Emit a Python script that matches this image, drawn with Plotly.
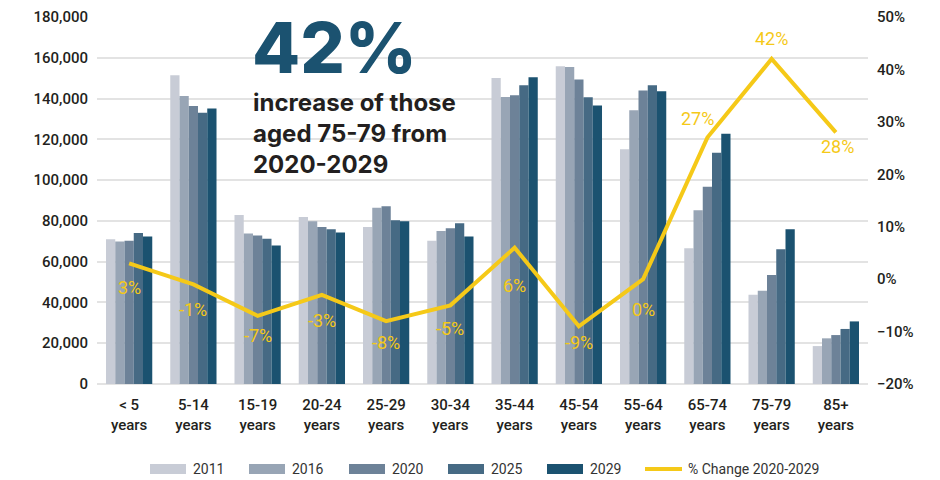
import plotly.graph_objects as go

# Age groups shown on the category axis
age_groups = ["< 5<br>years", "5-14<br>years", "15-19<br>years", "20-24<br>years",
              "25-29<br>years", "30-34<br>years", "35-44<br>years", "45-54<br>years",
              "55-64<br>years", "65-74<br>years", "75-79<br>years", "85+<br>years"]

# Population by age group for each year
pop_2011 = [71000, 151400, 82900, 81900, 77000, 70200, 150100, 155800, 115100, 66600, 43800, 18600]
pop_2016 = [69900, 141200, 73800, 79800, 86500, 75100, 140800, 155500, 134300, 85200, 45700, 22400]
pop_2020 = [70300, 136300, 72800, 77000, 87200, 76400, 141600, 149300, 143900, 96800, 53500, 24000]
pop_2025 = [74000, 133000, 71200, 75900, 80300, 78900, 146500, 140700, 146500, 113400, 66100, 27000]
pop_2029 = [72300, 135100, 67900, 74300, 79800, 72300, 150500, 136600, 143600, 122700, 75900, 30700]

# Percentage change 2020-2029
pct_change = [3, -1, -7, -3, -8, -5, 6, -9, 0, 27, 42, 28]

series_names = ["2011", "2016", "2020", "2025", "2029"]
series_values = [pop_2011, pop_2016, pop_2020, pop_2025, pop_2029]
series_colors = ["#c8ccd6", "#98a5b5", "#6d8298", "#466a84", "#1b5270"]
line_name = "% Change 2020-2029"

COND = "Roboto, Liberation Sans Narrow, sans-serif"
HEAD = "Inter, Open Sans, sans-serif"
YELLOW = "#f5c918"
INK = "#231f20"

W, H = 940, 480
ML, MR, MT, MB = 97, 72, 17, 96
pw, ph = W - ML - MR, H - MT - MB


def px_x(px):
    return (px - ML) / pw


def px_y(py):
    return 1 - (py - MT) / ph


fig = go.Figure()
for name, vals, col in zip(series_names, series_values, series_colors):
    fig.add_trace(go.Bar(
        x=age_groups, y=vals, name=name,
        marker=dict(color=col, line=dict(width=0)),
    ))

fig.add_trace(go.Scatter(
    x=age_groups, y=pct_change, name=line_name,
    mode="lines", yaxis="y2",
    line=dict(color=YELLOW, width=4),
))

# Value labels for the % change line (pixel offsets from each point)
label_dy = [-24, -25, -20, -26, -21, -23, -38, -16, -30, 19, 20, -14]
label_dx = [0, 0, 0, 0, 0, 0, 0, 0, 0, -10, 0, 2]
for cat, v, dy, dx in zip(age_groups, pct_change, label_dy, label_dx):
    fig.add_annotation(
        x=cat, y=v, yref="y2", text=f"{v}%", showarrow=False,
        yshift=dy, xshift=dx,
        font=dict(family=COND, size=18, color=YELLOW),
    )

# Headline callout
fig.add_annotation(
    x=px_x(250), y=px_y(47), xref="paper", yref="paper", text="42%",
    showarrow=False, xanchor="left", yanchor="middle",
    font=dict(family=HEAD, size=70, color="#1b5270", weight=800),
)
fig.add_annotation(
    x=px_x(251), y=px_y(133), xref="paper", yref="paper",
    text="increase of those<br>aged 75-79 from<br>2020-2029",
    showarrow=False, xanchor="left", yanchor="middle", align="left",
    font=dict(family=HEAD, size=24, color=INK, weight=700),
)

# Legend row drawn beneath the axis
legend_y = 469
item_x = [150, 249, 349, 448, 547]
shapes = []
for x0, name, col in zip(item_x, series_names, series_colors):
    shapes.append(dict(type="rect", xref="paper", yref="paper",
                       x0=px_x(x0), x1=px_x(x0 + 36),
                       y0=px_y(legend_y + 5), y1=px_y(legend_y - 5),
                       fillcolor=col, line=dict(width=0)))
    fig.add_annotation(x=px_x(x0 + 41), y=px_y(legend_y), xref="paper", yref="paper",
                       text=name, showarrow=False, xanchor="left", yanchor="middle",
                       font=dict(family=COND, size=14, color="#333"))
shapes.append(dict(type="line", xref="paper", yref="paper",
                   x0=px_x(645), x1=px_x(682), y0=px_y(legend_y), y1=px_y(legend_y),
                   line=dict(color=YELLOW, width=4)))
fig.add_annotation(x=px_x(686), y=px_y(legend_y), xref="paper", yref="paper",
                   text=line_name, showarrow=False, xanchor="left", yanchor="middle",
                   font=dict(family=COND, size=14, color="#333"))

tick_font = dict(family=COND, size=15, color=INK, weight=500)

fig.update_layout(
    width=W, height=H,
    margin=dict(l=ML, r=MR, t=MT, b=MB, autoexpand=False),
    paper_bgcolor="white", plot_bgcolor="white",
    barmode="group", bargap=0.28, bargroupgap=0,
    font=dict(family=COND, color=INK),
    showlegend=False,
    shapes=shapes,
    xaxis=dict(
        tickfont=tick_font,
        showgrid=False, showline=False, ticks="", automargin=False,
        ticklabelstandoff=10,
    ),
    yaxis=dict(
        range=[0, 180000], dtick=20000, tickformat=",",
        tickfont=tick_font,
        showgrid=True, gridcolor="#e3e3e3", gridwidth=2,
        zeroline=True, zerolinecolor="#e3e3e3", zerolinewidth=2,
        ticks="", ticklabelstandoff=8, automargin=False,
    ),
    yaxis2=dict(
        range=[-20, 50], dtick=10, ticksuffix="%",
        overlaying="y", side="right",
        tickfont=tick_font,
        showgrid=False, zeroline=False, ticks="", ticklabelstandoff=8,
        automargin=False,
    ),
)

fig.write_html("out.html")
